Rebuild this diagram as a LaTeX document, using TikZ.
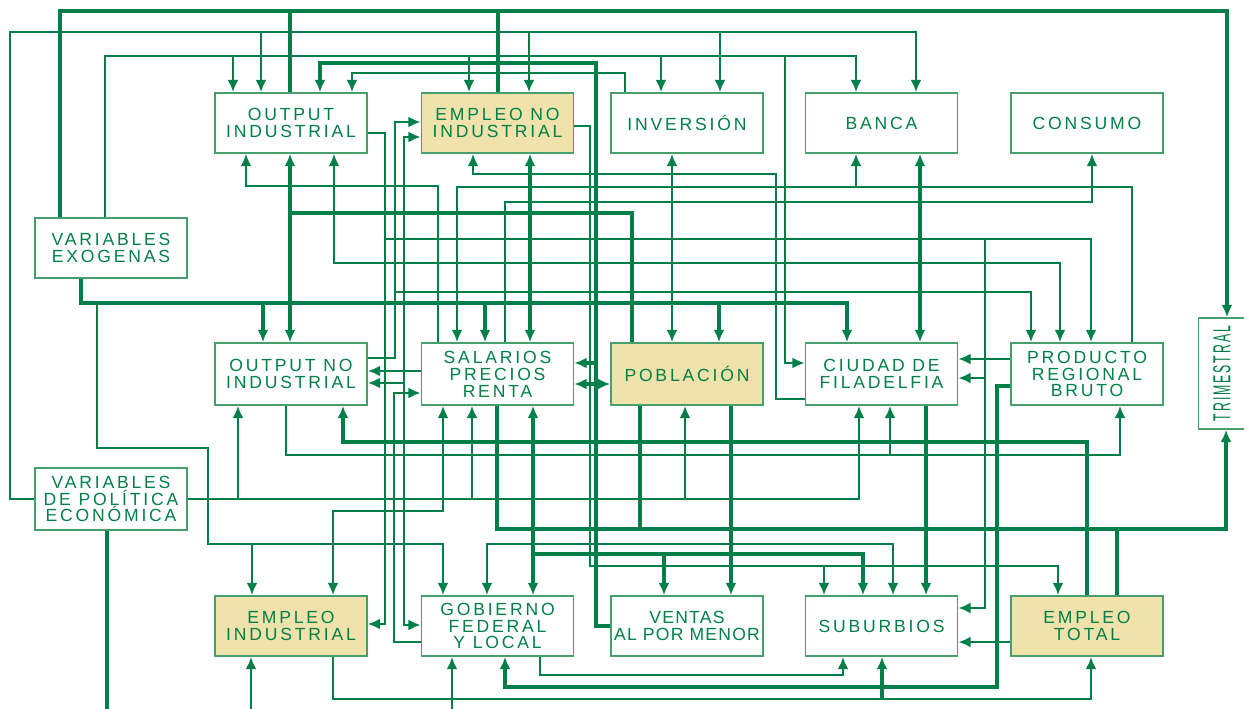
\documentclass[tikz,border=0pt]{standalone}
\usepackage{fontspec}
\newfontfamily\boxfont[LetterSpace=16]{Liberation Sans}
\newfontfamily\tightfont[LetterSpace=7]{Liberation Sans}
\usetikzlibrary{arrows.meta}
\definecolor{WireGreen}{RGB}{0,128,72}
\definecolor{BoxGreen}{RGB}{70,160,110}
\definecolor{SandFill}{RGB}{240,226,170}

\begin{document}
\begin{tikzpicture}[x=0.02cm,y=-0.02cm,>={Latex[length=7pt,width=6.2pt]},
    box/.style={draw=BoxGreen,line width=0.9pt,fill=white,minimum width=3.04cm,
      minimum height=1.2cm,inner sep=0pt,align=center,text=WireGreen,
      font=\boxfont\fontsize{10}{9.6}\selectfont},
    sandbox/.style={box,fill=SandFill},
    wire/.style={WireGreen,line width=1.45pt},
    bus/.style={WireGreen,line width=1.8pt}]
  \useasboundingbox (0,0) rectangle (1244,709);
  \node[box] (oi) at (291,123) {OUTPUT\\INDUSTRIAL};
  \node[sandbox] (eni) at (497.5,123) {EMPLEO NO\\INDUSTRIAL};
  \node[box] (inv) at (687,123) {INVERSIÓN};
  \node[box] (banca) at (881.5,123) {BANCA};
  \node[box] (cons) at (1087,123) {CONSUMO};
  \node[box] (ve) at (111,248) {VARIABLES\\EXOGENAS};
  \node[box,minimum height=1.24cm] (oni) at (291,374) {OUTPUT NO\\INDUSTRIAL};
  \node[box,minimum height=1.24cm] (spr) at (497.5,374) {SALARIOS\\PRECIOS\\RENTA};
  \node[sandbox,minimum height=1.24cm] (pob) at (687,374) {POBLACIÓN};
  \node[box,minimum height=1.24cm] (cf) at (881.5,374) {CIUDAD DE\\FILADELFIA};
  \node[box,minimum height=1.24cm] (prb) at (1087,374) {PRODUCTO\\REGIONAL\\BRUTO};
  \node[box,minimum width=0.94cm,minimum height=2.22cm] (tri) at (1222,373.5)
    {\rotatebox{90}{\scalebox{0.5}[1]{\fontsize{14}{14}\selectfont TRIMESTRAL}}};
  \node[box,minimum height=1.24cm] (vpe) at (111,499) {VARIABLES\\DE POLÍTICA\\ECONÓMICA};
  \node[sandbox] (ei) at (291,626) {EMPLEO\\INDUSTRIAL};
  \node[box] (gfl) at (497.5,626) {GOBIERNO\\FEDERAL\\Y LOCAL};
  \node[box,font=\tightfont\fontsize{10}{9.6}\selectfont] (vpm) at (687,626) {VENTAS\\AL POR MENOR};
  \node[box] (sub) at (881.5,626) {SUBURBIOS};
  \node[sandbox] (et) at (1087,626) {EMPLEO\\TOTAL};

  \draw[bus,->] (ve.north -| 60,0) |- (1227,11) -- (tri.north -| 1227,0);
  \draw[bus] (oi.north -| 290,0) -- (290,11);
  \draw[bus] (eni.north -| 498,0) -- (498,11);

  \draw[wire,->] (vpe.west) -| (10,32) -| (banca.north -| 916,0);
  \draw[wire,->] (261,32) -- (oi.north -| 261,0);
  \draw[wire,->] (529,32) -- (eni.north -| 529,0);
  \draw[wire,->] (720,32) -- (inv.north -| 720,0);

  \draw[wire,->] (ve.north -| 105,0) -- (105,56) -| (banca.north -| 856,0);
  \draw[wire,->] (233,56) -- (oi.north -| 233,0);
  \draw[wire,->] (469,56) -- (eni.north -| 469,0);
  \draw[wire,->] (661,56) -- (inv.north -| 661,0);
  \draw[wire,->] (785,56) |- (cf.west |- 0,363);

  \draw[bus,->] (vpm.west) -| (596,63) -| (oi.north -| 320,0);
  \draw[bus,->] (596,363) -- (spr.east |- 0,363);
  \draw[wire,->] (inv.north -| 625,0) |- (352,73) -- (oi.north -| 352,0);

  \draw[wire,->] (oi.east |- 0,133) -| (385,624) -- (ei.east |- 0,624);
  \draw[wire,->] (385,239) -| (prb.north -| 1091,0);
  \draw[wire,->] (985,239) |- (sub.east |- 0,608);
  \draw[wire,->] (985,378) -- (cf.east |- 0,378);

  \draw[wire,->] (oni.east |- 0,358) -| (395,122) -- (eni.west |- 0,122);
  \draw[wire,->] (395,292) -| (prb.north -| 1031,0);
  \draw[wire,<->] (eni.west |- 0,137) -| (404,625) -- (gfl.west |- 0,625);
  \draw[wire,->] (404,383) -- (oni.east |- 0,383);
  \draw[wire,->] (gfl.west |- 0,642) -| (394,393) -- (spr.west |- 0,393);
  \draw[wire,->] (spr.west |- 0,371) -- (oni.east |- 0,371);

  \draw[wire,->] (spr.north -| 438,0) |- (246,186) -- (oi.south -| 246,0);
  \draw[wire,->] (prb.north -| 1132,0) |- (457,187) -- (spr.north -| 457,0);
  \draw[wire,->] (856,187) -- (banca.south -| 856,0);
  \draw[wire,->] (spr.north -| 505,0) |- (1092,202) -- (cons.south -| 1092,0);
  \draw[bus,->] (pob.north -| 632,0) |- (290,213) -- (oi.south -| 290,0);
  \draw[bus,->] (290,213) -- (oni.north -| 290,0);
  \draw[wire,->] (cf.west |- 0,399) -| (776,174) -| (eni.south -| 473,0);
  \draw[bus,<->] (eni.south -| 530,0) -- (spr.north -| 530,0);
  \draw[wire,<->] (inv.south -| 672,0) -- (pob.north -| 672,0);
  \draw[bus,<->] (banca.south -| 920,0) -- (cf.north -| 920,0);
  \draw[wire,<->] (oi.south -| 334,0) |- (1060,263) -- (prb.north -| 1060,0);

  \draw[bus,->] (ve.south -| 81,0) |- (847,303) -- (cf.north -| 847,0);
  \draw[bus,->] (263,303) -- (oni.north -| 263,0);
  \draw[bus,->] (485,303) -- (spr.north -| 485,0);
  \draw[bus,->] (719,303) -- (pob.north -| 719,0);
  \draw[wire,->] (97,303) |- (208,448) |- (443,544) -- (gfl.north -| 443,0);
  \draw[wire,->] (252,544) -- (ei.north -| 252,0);
  \draw[wire,<->] (spr.south -| 443,0) |- (333,511) -- (ei.north -| 333,0);

  \draw[wire,->] (vpe.east) -| (cf.south -| 859,0);
  \draw[wire,->] (238,499) -- (oni.south -| 238,0);
  \draw[wire,->] (472,499) -- (spr.south -| 472,0);
  \draw[wire,->] (685,499) -- (pob.south -| 685,0);

  \draw[bus,->] (spr.south -| 497,0) |- (1226,529) -- (tri.south -| 1226,0);
  \draw[bus] (pob.south -| 640,0) -- (640,529);
  \draw[bus] (et.north -| 1117,0) -- (1117,529);
  \draw[bus,<->] (spr.south -| 533,0) -- (gfl.north -| 533,0);
  \draw[bus,->] (533,554) -| (sub.north -| 863,0);
  \draw[bus,->] (664,554) -- (vpm.north -| 664,0);
  \draw[wire,<->] (gfl.north -| 487,0) |- (893,544) -- (sub.north -| 893,0);
  \draw[wire,->] (eni.east |- 0,126) -| (590,566) -| (et.north -| 1058,0);
  \draw[wire,->] (824,566) -- (sub.north -| 824,0);
  \draw[bus,->] (pob.south -| 731,0) -- (vpm.north -| 731,0);
  \draw[bus,<->] (spr.east |- 0,384) -- (pob.west |- 0,384);

  \draw[bus,->] (et.north -| 1087,0) |- (343,442) -- (oni.south -| 343,0);
  \draw[wire,->] (oni.south -| 286,0) |- (1120,455) -- (prb.south -| 1120,0);
  \draw[wire,->] (890,455) -- (cf.south -| 890,0);
  \draw[wire,->] (prb.west |- 0,359) -- (cf.east |- 0,359);
  \draw[bus,->] (prb.west |- 0,386) -| (997,687) -| (gfl.south -| 505,0);
  \draw[wire,->] (ei.south -| 333,0) |- (1091,699) -- (et.south -| 1091,0);
  \draw[bus,->] (882,699) -- (sub.south -| 882,0);
  \draw[wire,->] (gfl.south -| 540,0) |- (843,675) -- (sub.south -| 843,0);
  \draw[wire,->] (et.west |- 0,642) -- (sub.east |- 0,642);
  \draw[bus,->] (cf.south -| 926,0) -- (sub.north -| 926,0);

  \coordinate (feedEI) at (251,712);
  \coordinate (feedGFL) at (452,712);
  \coordinate (outVPE) at (107,712);
  \draw[wire,->] (feedEI) -- (ei.south -| feedEI);
  \draw[wire,->] (feedGFL) -- (gfl.south -| feedGFL);
  \draw[bus] (vpe.south -| outVPE) -- (outVPE);
\end{tikzpicture}
\end{document}
